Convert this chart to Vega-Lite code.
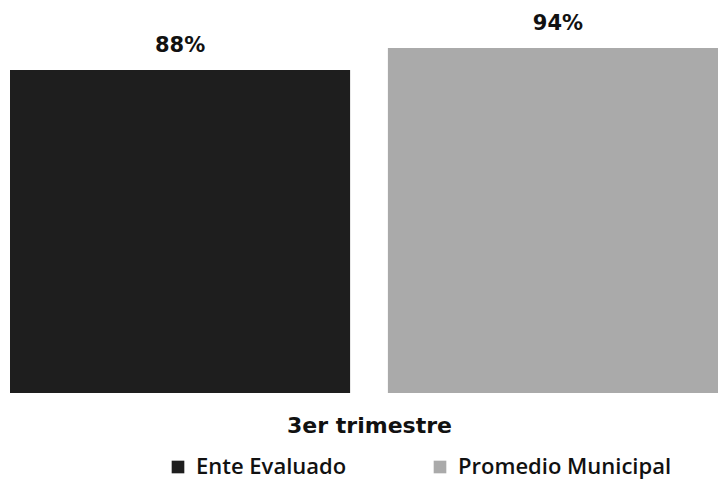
{
  "$schema": "https://vega.github.io/schema/vega-lite/v6.json",
  "width": 718,
  "height": 367,
  "padding": {"left": 10, "top": 26, "right": 0, "bottom": 91},
  "autosize": {"type": "none"},
  "background": "white",
  "config": {
    "view": {"stroke": null},
    "font": "DejaVu Sans"
  },
  "data": {
    "values": [
      {"serie": "Ente Evaluado", "valor": 0.88, "etiqueta": "88%"},
      {"serie": "Promedio Municipal", "valor": 0.94, "etiqueta": "94%"}
    ]
  },
  "encoding": {
    "x": {
      "field": "serie",
      "type": "nominal",
      "sort": null,
      "scale": {"paddingInner": 0.1, "paddingOuter": 0},
      "axis": {
        "title": "3er trimestre",
        "labels": false,
        "ticks": false,
        "domain": false,
        "titleFont": "DejaVu Sans",
        "titleFontSize": 22,
        "titleFontWeight": "bold",
        "titleColor": "#111111",
        "titlePadding": 22
      }
    },
    "y": {
      "field": "valor",
      "type": "quantitative",
      "scale": {"domain": [0, 1]},
      "axis": null
    }
  },
  "layer": [
    {
      "mark": {"type": "bar"},
      "encoding": {
        "color": {
          "field": "serie",
          "type": "nominal",
          "scale": {"domain": ["Ente Evaluado", "Promedio Municipal"], "range": ["#1e1e1e", "#aaaaaa"]},
          "legend": {
            "title": null,
            "orient": "none",
            "legendX": 157,
            "legendY": 430,
            "direction": "horizontal",
            "columns": 2,
            "columnPadding": 82,
            "symbolType": "square",
            "symbolSize": 160,
            "symbolStrokeWidth": 0,
            "labelFont": "Open Sans",
            "labelFontSize": 22,
            "labelFontWeight": 600,
            "labelColor": "#111111",
            "labelOffset": 7,
            "labelLimit": 300
          }
        }
      }
    },
    {
      "mark": {"type": "text", "baseline": "bottom", "dy": -14, "font": "DejaVu Sans", "fontSize": 21, "fontWeight": "bold", "color": "#111111"},
      "encoding": {
        "text": {"field": "etiqueta"}
      }
    }
  ]
}
